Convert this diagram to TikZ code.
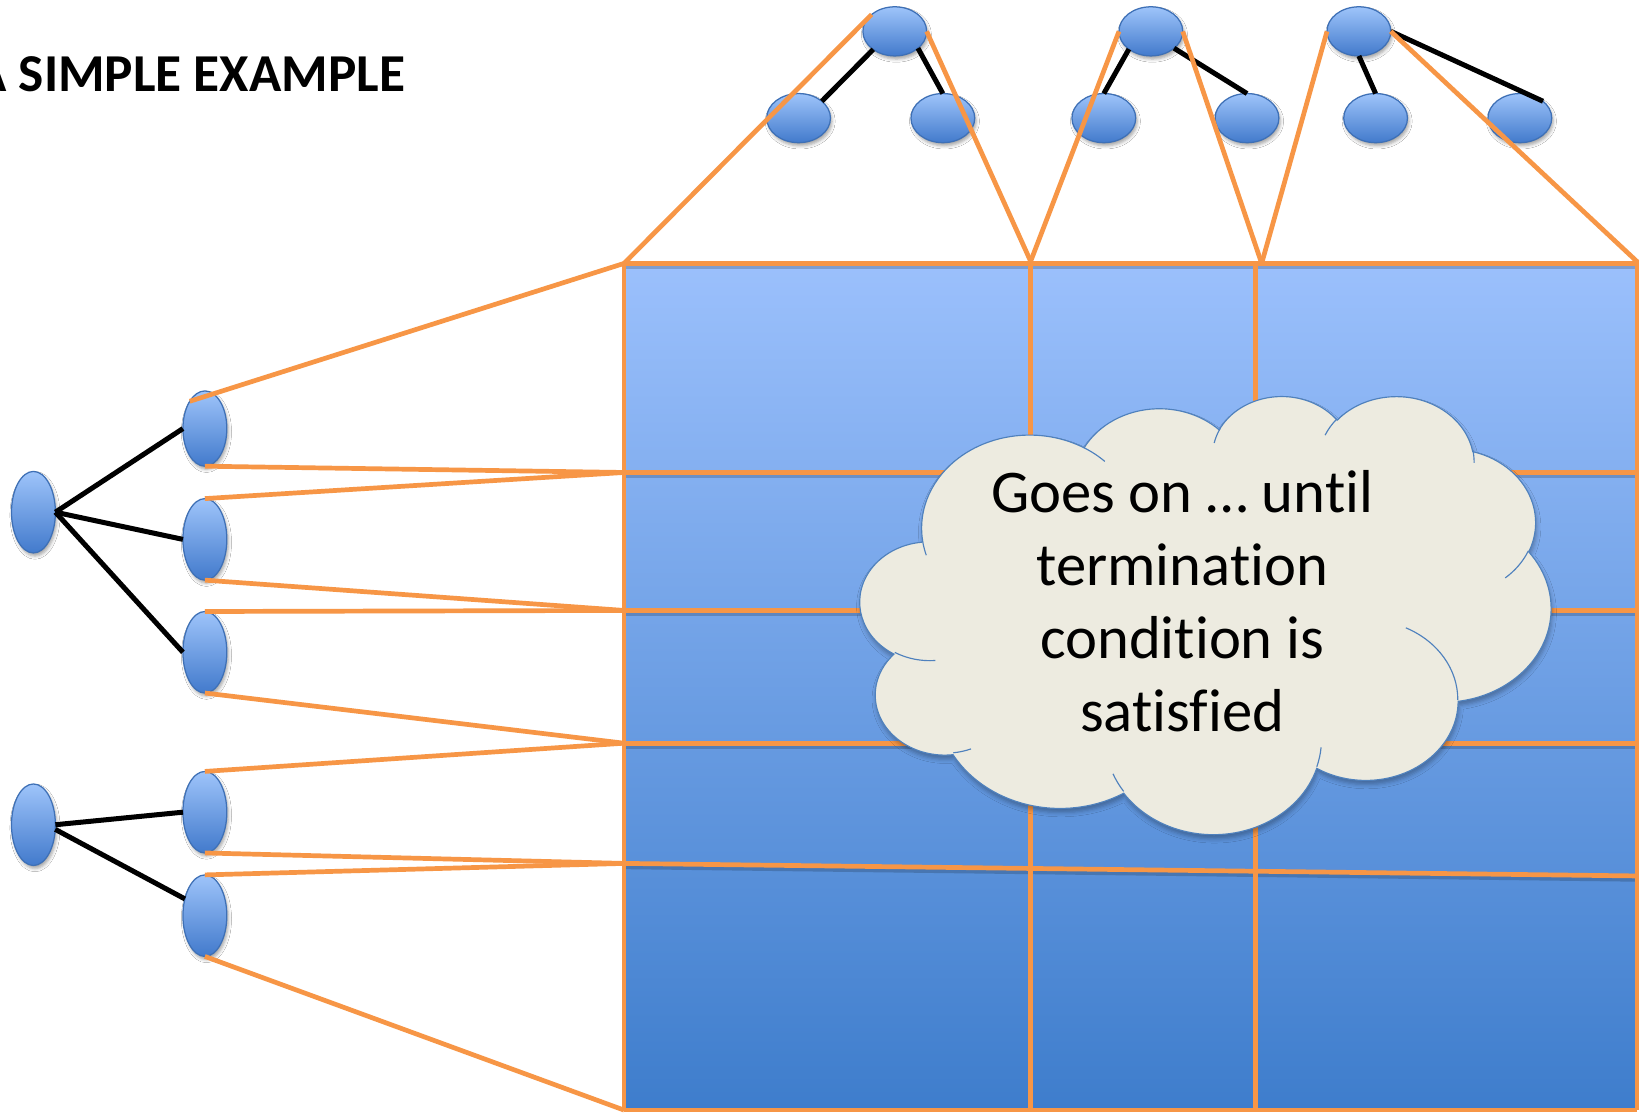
\documentclass[tikz,border=0pt]{standalone}
\usepackage{fontspec}
\setmainfont{Carlito}[Ligatures=NoCommon]
\usetikzlibrary{shapes.geometric,shadows.blur}

\definecolor{linkorange}{RGB}{247,150,70}
\definecolor{nodetop}{RGB}{158,196,250}
\definecolor{nodebottom}{RGB}{66,122,204}
\definecolor{nodeedge}{RGB}{62,112,182}
\definecolor{gridtop}{RGB}{155,192,252}
\definecolor{gridbottom}{RGB}{62,125,204}
\definecolor{cloudfill}{RGB}{237,235,224}
\definecolor{cloudedge}{RGB}{79,129,189}

% One elliptic arc step of the cloud outline: x radius, y radius,
% start angle and sweep (degrees, measured along the ray from the centre).
\newcommand\ooarc[4]{%
  \pgfextra{%
    \pgfmathparse{#3+mod(atan2(#1*sin(#3),#2*cos(#3))-(#3)+540,360)-180}%
    \xdef\oostart{\pgfmathresult}%
    \pgfmathparse{#3+#4+mod(atan2(#1*sin(#3+#4),#2*cos(#3+#4))-(#3+#4)+540,360)-180}%
    \xdef\ooend{\pgfmathresult}%
  }%
  arc[start angle=\oostart, end angle=\ooend, x radius=#1, y radius=#2]%
}

\tikzset{
  treenode/.style={ellipse, draw=nodeedge, line width=1.2pt,
    top color=nodetop, bottom color=nodebottom, inner sep=0pt, outer sep=0pt,
    blur shadow={shadow xshift=1.5pt, shadow yshift=-3pt,
                 shadow blur radius=3pt, shadow opacity=35}},
  topnode/.style={treenode, minimum width=61pt, minimum height=47pt},
  sidenode/.style={treenode, minimum width=42pt, minimum height=78pt},
  treeedge/.style={draw=black, line width=4.8pt},
  link/.style={draw=linkorange, line width=4.5pt},
  gridline/.style={draw=linkorange, line width=4.5pt},
  gridshadow/.style={draw=black, opacity=0.18, line width=4pt},
  cloudline/.style={draw=cloudedge, line width=1.1pt},
}

\begin{document}
\begin{tikzpicture}[x=1pt, y=-1pt]
\useasboundingbox (0,0) rectangle (1568,1065);
\clip (0,0) rectangle (1568,1065);
\fill[white] (0,0) rectangle (1568,1065);

% ---------- title ----------
\node[anchor=base west, inner sep=0pt, font=\bfseries\fontsize{51}{60}\selectfont]
  (title) at (-24.5,88) {A SIMPLE EXAMPLE};

% ---------- grid ----------
\coordinate (tl) at (597,252);   \coordinate (tr) at (1566,252);
\coordinate (bl) at (597,1062);  \coordinate (br) at (1566,1062);
\coordinate (h1l) at (597,452);  \coordinate (h1r) at (1566,452);
\coordinate (h2l) at (597,584);  \coordinate (h2r) at (1566,584);
\coordinate (h3l) at (597,711);  \coordinate (h3r) at (1566,711);
\coordinate (h4l) at (597,826);  \coordinate (h4r) at (1566,838);
\coordinate (v1t) at (986,252);  \coordinate (v1b) at (986,1062);
\coordinate (v2t) at (1201,252); \coordinate (v2b) at (1201,1062);
\coordinate (apex1) at (986,250);
\coordinate (apex2) at (1207,252);
\coordinate (apex3) at (1568,252);

\shade[top color=gridtop, bottom color=gridbottom] (tl) rectangle (br);

\foreach \a/\b in {tl/tr, h1l/h1r, h2l/h2r, h3l/h3r, h4l/h4r}
  \draw[gridshadow] ([yshift=-3.5pt]\a) -- ([yshift=-3.5pt]\b);

\draw[gridline] (tl) -- (bl);
\draw[gridline] (v1t) -- (v1b);
\draw[gridline] (v2t) -- (v2b);
\draw[gridline] (tr) -- (br);
\foreach \a/\b in {tl/tr, h1l/h1r, h2l/h2r, h3l/h3r, h4l/h4r, bl/br}
  \draw[gridline] (\a) -- (\b);

% ---------- left trees ----------
\node[sidenode] (ra) at (32,490) {};
\node[sidenode, minimum height=72pt] (a1) at (196,410) {};
\node[sidenode] (a2) at (196,516) {};
\node[sidenode] (a3) at (196,624) {};
\node[sidenode] (rb) at (32,789) {};
\node[sidenode] (b1) at (196,777) {};
\node[sidenode] (b2) at (196,876) {};

\draw[treeedge] (ra.east) -- (a1.west);
\draw[treeedge] (ra.east) -- (a2.west);
\draw[treeedge] (ra.east) -- (a3.west);
\draw[treeedge] (rb.east) -- (b1.west);
\draw[treeedge] (rb.-12) -- (b2.140);

\draw[link] (a1.119) -- (tl);
\draw[link] (a1.south) -- (h1l);
\draw[link] (a2.north) -- (h1l);
\draw[link] (a2.south) -- (h2l);
\draw[link] (a3.north) -- (h2l);
\draw[link] (a3.south) -- (h3l);
\draw[link] (b1.north) -- (h3l);
\draw[link] (b1.south) -- (h4l);
\draw[link] (b2.north) -- (h4l);
\draw[link] (b2.south) -- (bl);

% ---------- top trees ----------
\node[topnode] (r1) at (856,30) {};
\node[topnode] (c1) at (764,113) {};
\node[topnode] (c2) at (902,113) {};
\node[topnode] (r2) at (1101,30) {};
\node[topnode] (c3) at (1056,113) {};
\node[topnode] (c4) at (1193,113) {};
\node[topnode] (r3) at (1300,30) {};
\node[topnode] (c5) at (1316,113) {};
\node[topnode] (c6) at (1454,113) {};

\draw[treeedge] (r1.-140) -- (c1.36);
\draw[treeedge] (r1.-36) -- (c2.north);
\draw[treeedge] (r2.-141) -- (c3.north);
\draw[treeedge] (r2.-36) -- (c4.north);
\draw[treeedge] (r3.south) -- (c5.north);
\draw[treeedge] (r3.east) -- (c6.36);

\draw[link] (tl) -- (r1.144);
\draw[link] (r1.east) -- (apex1);
\draw[link] (apex1) -- (r2.west);
\draw[link] (r2.east) -- (apex2);
\draw[link] (apex2) -- (r3.west);
\draw[link] (r3.east) -- (apex3);

% ---------- cloud callout ----------
\begin{scope}[shift={(823,378)}, x=0.152917pt, y=-0.096991pt]
  \path[fill=cloudfill, cloudline,
        blur shadow={shadow xshift=1pt, shadow yshift=-4pt,
                     shadow blur radius=4pt, shadow opacity=30}]
    (390,1437)
    \ooarc{675.3}{919.0}{-190.4875}{123.7805}
    \ooarc{533.3}{726.7}{-144.1024}{89.9452}
    \ooarc{436.5}{594.5}{-145.8079}{99.7230}
    \ooarc{485.7}{659.5}{-130.9861}{117.2417}
    \ooarc{533.3}{727.3}{-78.7089}{109.0269}
    \ooarc{677.5}{922.0}{-46.2673}{130.2690}
    \ooarc{578.5}{786.7}{0.6250}{114.0333}
    \ooarc{675.2}{921.5}{22.4516}{115.1726}
    \ooarc{772.0}{1054.3}{66.2426}{75.7110}
    \ooarc{436.0}{591.8}{-274.9421}{146.7356}
    \ooarc{434.5}{594.5}{-246.8285}{152.5189}
    -- cycle;
  \draw[cloudline]
    (469.3,2617.7) \ooarc{434.5}{594.5}{86.7420}{26.4295}
    (692.8,3489.9) \ooarc{436.0}{591.8}{73.6105}{11.4475}
    (1647.8,3909.0) \ooarc{675.2}{921.5}{137.6242}{14.0811}
    (2882.7,3475.1) \ooarc{675.2}{921.5}{6.4533}{15.9984}
    (3412.9,2295.4) \ooarc{578.5}{786.7}{-70.2924}{70.9174}
    (4179.8,1535.4) \ooarc{533.3}{727.3}{30.3180}{27.7515}
    (3832.4,542.6) \ooarc{485.7}{659.5}{-13.7443}{14.8589}
    (2907.8,395.2) \ooarc{485.7}{659.5}{-149.1815}{18.1954}
    (2214.1,472.0) \ooarc{436.5}{594.5}{-163.4943}{17.6864}
    (1400.0,519.2) \ooarc{675.3}{919.0}{-66.7070}{12.3194}
    (412.7,1578.9) \ooarc{675.3}{919.0}{157.6544}{11.8582};
\end{scope}

% the anchor sits on the baseline of the last line
\node[anchor=base, align=center, inner sep=0pt,
      font=\fontsize{58}{70}\selectfont]
  (note) at (1131,700) {Goes on … until\\termination\\condition is\\satisfied};

\end{tikzpicture}
\end{document}
